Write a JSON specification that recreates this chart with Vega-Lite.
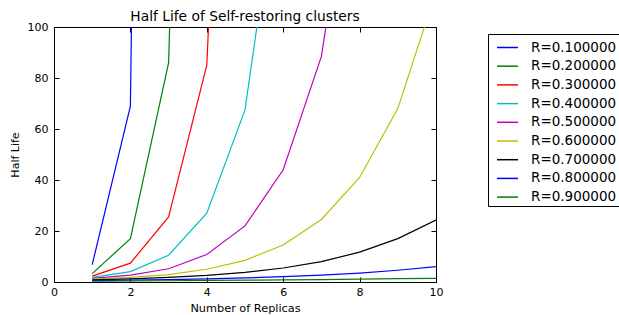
{
  "$schema": "https://vega.github.io/schema/vega-lite/v6.json",
  "width": 382,
  "height": 255,
  "autosize": {"type": "none"},
  "padding": {"left": 54, "top": 27, "right": 183, "bottom": 33},
  "title": {"text": "Half Life of Self-restoring clusters", "fontSize": 13.8, "fontWeight": "normal", "font": "DejaVu Sans", "color": "#000", "offset": -3},
  "data": {"values": [
    {"r": "R=0.100000", "n": 1, "h": 6.8}, {"r": "R=0.100000", "n": 2, "h": 69}, {"r": "R=0.100000", "n": 3, "h": 1200},
    {"r": "R=0.200000", "n": 1, "h": 3.3}, {"r": "R=0.200000", "n": 2, "h": 17}, {"r": "R=0.200000", "n": 3, "h": 86}, {"r": "R=0.200000", "n": 4, "h": 600},
    {"r": "R=0.300000", "n": 1, "h": 2.3}, {"r": "R=0.300000", "n": 2, "h": 7.4}, {"r": "R=0.300000", "n": 3, "h": 25.5}, {"r": "R=0.300000", "n": 4, "h": 85}, {"r": "R=0.300000", "n": 5, "h": 420},
    {"r": "R=0.400000", "n": 1, "h": 1.8}, {"r": "R=0.400000", "n": 2, "h": 4.1}, {"r": "R=0.400000", "n": 3, "h": 10.5}, {"r": "R=0.400000", "n": 4, "h": 27}, {"r": "R=0.400000", "n": 5, "h": 67.5}, {"r": "R=0.400000", "n": 6, "h": 172},
    {"r": "R=0.500000", "n": 1, "h": 1.4}, {"r": "R=0.500000", "n": 2, "h": 2.7}, {"r": "R=0.500000", "n": 3, "h": 5.2}, {"r": "R=0.500000", "n": 4, "h": 10.8}, {"r": "R=0.500000", "n": 5, "h": 22}, {"r": "R=0.500000", "n": 6, "h": 44}, {"r": "R=0.500000", "n": 7, "h": 88.5}, {"r": "R=0.500000", "n": 8, "h": 186},
    {"r": "R=0.600000", "n": 1, "h": 1.1}, {"r": "R=0.600000", "n": 2, "h": 1.8}, {"r": "R=0.600000", "n": 3, "h": 2.9}, {"r": "R=0.600000", "n": 4, "h": 5}, {"r": "R=0.600000", "n": 5, "h": 8.5}, {"r": "R=0.600000", "n": 6, "h": 14.5}, {"r": "R=0.600000", "n": 7, "h": 24.5}, {"r": "R=0.600000", "n": 8, "h": 41}, {"r": "R=0.600000", "n": 9, "h": 68}, {"r": "R=0.600000", "n": 10, "h": 114},
    {"r": "R=0.700000", "n": 1, "h": 0.8}, {"r": "R=0.700000", "n": 2, "h": 1.2}, {"r": "R=0.700000", "n": 3, "h": 1.8}, {"r": "R=0.700000", "n": 4, "h": 2.6}, {"r": "R=0.700000", "n": 5, "h": 3.8}, {"r": "R=0.700000", "n": 6, "h": 5.5}, {"r": "R=0.700000", "n": 7, "h": 8}, {"r": "R=0.700000", "n": 8, "h": 11.7}, {"r": "R=0.700000", "n": 9, "h": 17}, {"r": "R=0.700000", "n": 10, "h": 24.3},
    {"r": "R=0.800000", "n": 1, "h": 0.55}, {"r": "R=0.800000", "n": 2, "h": 0.7}, {"r": "R=0.800000", "n": 3, "h": 0.9}, {"r": "R=0.800000", "n": 4, "h": 1.2}, {"r": "R=0.800000", "n": 5, "h": 1.6}, {"r": "R=0.800000", "n": 6, "h": 2.1}, {"r": "R=0.800000", "n": 7, "h": 2.7}, {"r": "R=0.800000", "n": 8, "h": 3.5}, {"r": "R=0.800000", "n": 9, "h": 4.6}, {"r": "R=0.800000", "n": 10, "h": 6.0},
    {"r": "R=0.900000", "n": 1, "h": 0.3}, {"r": "R=0.900000", "n": 2, "h": 0.4}, {"r": "R=0.900000", "n": 3, "h": 0.5}, {"r": "R=0.900000", "n": 4, "h": 0.6}, {"r": "R=0.900000", "n": 5, "h": 0.7}, {"r": "R=0.900000", "n": 6, "h": 0.8}, {"r": "R=0.900000", "n": 7, "h": 0.95}, {"r": "R=0.900000", "n": 8, "h": 1.1}, {"r": "R=0.900000", "n": 9, "h": 1.3}, {"r": "R=0.900000", "n": 10, "h": 1.45}
  ]},
  "layer": [
    {
      "mark": {"type": "line", "clip": true, "strokeWidth": 1.2},
      "encoding": {
        "x": {"field": "n", "type": "quantitative", "scale": {"domain": [0, 10], "nice": false, "zero": false},
              "axis": {"orient": "bottom", "values": [0, 2, 4, 6, 8, 10], "title": "Number of Replicas", "tickSize": -5, "labelPadding": 9, "titlePadding": 5, "labelFlush": false, "labelOverlap": false, "titleFontSize": 11.3}},
        "y": {"field": "h", "type": "quantitative", "scale": {"domain": [0, 100], "nice": false, "zero": false},
              "axis": {"orient": "left", "values": [0, 20, 40, 60, 80, 100], "title": "Half Life", "tickSize": -5, "labelPadding": 11, "titlePadding": 7, "labelFlush": false, "labelOverlap": false}},
        "color": {"field": "r", "type": "nominal",
                  "scale": {"domain": ["R=0.100000", "R=0.200000", "R=0.300000", "R=0.400000", "R=0.500000", "R=0.600000", "R=0.700000", "R=0.800000", "R=0.900000"],
                            "range": ["#0000ff", "#008000", "#ff0000", "#00bfbf", "#bf00bf", "#bfbf00", "#000000", "#0000ff", "#008000"]},
                  "legend": {"title": null, "orient": "none", "legendX": 434, "legendY": 7, "strokeColor": "#000", "padding": 2,
                             "symbolType": "stroke", "symbolSize": 441, "symbolStrokeWidth": 1.5, "symbolOffset": 6,
                             "labelFontSize": 13.5, "labelFont": "DejaVu Sans", "labelColor": "#000", "labelOffset": 12, "rowPadding": 0.7}}
      }
    },
    {
      "mark": {"type": "line", "clip": true, "opacity": 0},
      "encoding": {
        "x": {"field": "n", "type": "quantitative", "scale": {"domain": [0, 10], "nice": false, "zero": false},
              "axis": {"orient": "top", "values": [0, 2, 4, 6, 8, 10], "title": null, "labels": false, "tickSize": -5}},
        "y": {"field": "h", "type": "quantitative", "scale": {"domain": [0, 100], "nice": false, "zero": false},
              "axis": {"orient": "right", "values": [0, 20, 40, 60, 80, 100], "title": null, "labels": false, "tickSize": -5}},
        "detail": {"field": "r"}
      }
    }
  ],
  "resolve": {"axis": {"x": "independent", "y": "independent"}},
  "config": {
    "font": "DejaVu Sans",
    "view": {"stroke": "#000", "strokeWidth": 1},
    "axis": {"grid": false, "domain": false, "tickColor": "#000", "labelColor": "#000", "labelFontSize": 11, "labelFont": "DejaVu Sans",
             "titleFontSize": 11, "titleFontWeight": "normal", "titleFont": "DejaVu Sans", "titleColor": "#000"}
  }
}
